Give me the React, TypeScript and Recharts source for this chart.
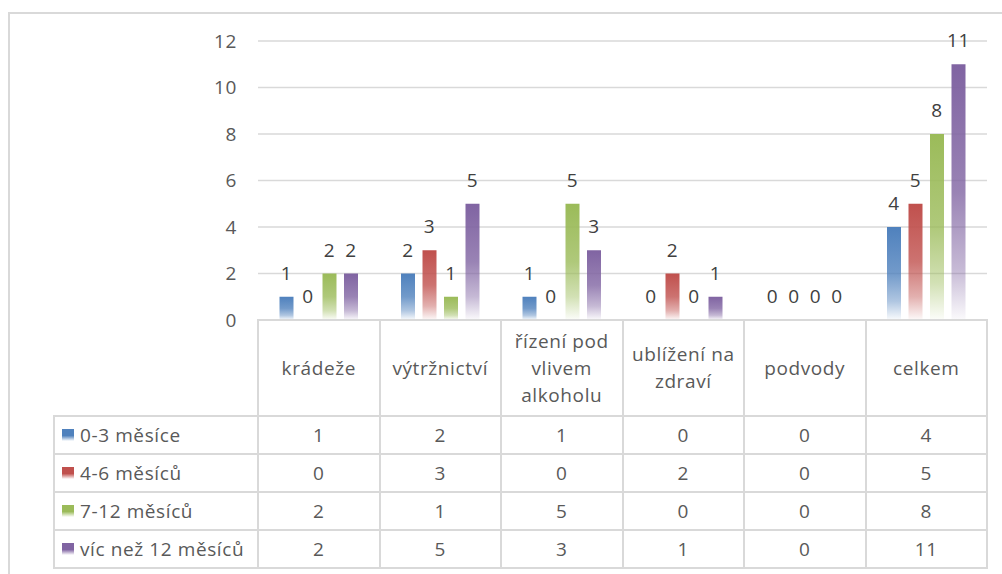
import { Bar, BarChart, CartesianGrid, LabelList, XAxis, YAxis } from "recharts";

const categories = [
  "krádeže",
  "výtržnictví",
  "řízení pod vlivem alkoholu",
  "ublížení na zdraví",
  "podvody",
  "celkem",
];
const seriesNames = ["0-3 měsíce", "4-6 měsíců", "7-12 měsíců", "víc než 12 měsíců"];
const months0to3 = [1, 2, 1, 0, 0, 4];
const months4to6 = [0, 3, 0, 2, 0, 5];
const months7to12 = [2, 1, 5, 0, 0, 8];
const monthsOver12 = [2, 5, 3, 1, 0, 11];
const yTicks = [0, 2, 4, 6, 8, 10, 12];

const colors = ["#4F81BD", "#C0504D", "#9BBB59", "#8064A2"];
const seriesValues = [months0to3, months4to6, months7to12, monthsOver12];
const keys = ["s0", "s1", "s2", "s3"];

const data = categories.map((name, i) => {
  const row: Record<string, string | number> = { name };
  seriesValues.forEach((vals, s) => (row[keys[s]] = vals[i]));
  return row;
});

const FONT = "'Open Sans', sans-serif";
const FS = 19;
const LS = 0.6;
const GRID = "#d9d9d9";
const TEXT = "#595959";

// plot area in page coordinates
const PLOT_L = 258;
const PLOT_R = 987;
const PLOT_T = 41;
const PLOT_B = 320;
const COL_W = (PLOT_R - PLOT_L) / categories.length;
const FIRST_L = 54;
const HEAD_H = 96;
const ROW_H = 38;

function Cell(props: {
  x: number;
  y: number;
  w: number;
  h: number;
  children?: any;
  align?: "center" | "left";
}) {
  const { x, y, w, h, children, align = "center" } = props;
  return (
    <div
      style={{
        position: "absolute",
        left: x - 1,
        top: y - 1,
        width: w + 2,
        height: h + 2,
        boxSizing: "border-box",
        border: `2px solid ${GRID}`,
        display: "flex",
        alignItems: "center",
        justifyContent: align === "center" ? "center" : "flex-start",
        textAlign: "center",
        padding: align === "center" ? "0 5px" : "0 0 0 7px",
        fontFamily: FONT,
        fontSize: FS,
        letterSpacing: LS,
        lineHeight: "27px",
        color: TEXT,
      }}
    >
      {children}
    </div>
  );
}

function DataTable() {
  const cells: any[] = [];
  categories.forEach((c, i) => {
    cells.push(
      <Cell key={"h" + i} x={PLOT_L + i * COL_W} y={PLOT_B} w={COL_W} h={HEAD_H}>
        {c}
      </Cell>
    );
  });
  seriesNames.forEach((s, r) => {
    const y = PLOT_B + HEAD_H + r * ROW_H;
    cells.push(
      <Cell key={"l" + r} x={FIRST_L} y={y} w={PLOT_L - FIRST_L} h={ROW_H} align="left">
        <span
          style={{
            display: "inline-block",
            flex: "none",
            width: 12,
            height: 12,
            marginRight: 6,
            background: `linear-gradient(${colors[r]}, ${colors[r]} 55%, #ffffff)`,
          }}
        />
        <span style={{ whiteSpace: "nowrap" }}>{s}</span>
      </Cell>
    );
    seriesValues[r].forEach((v, i) => {
      cells.push(
        <Cell key={"c" + r + "-" + i} x={PLOT_L + i * COL_W} y={y} w={COL_W} h={ROW_H}>
          {v}
        </Cell>
      );
    });
  });
  return <>{cells}</>;
}

export default function App() {
  return (
    <div
      style={{
        position: "fixed",
        left: 0,
        top: 0,
        width: 1002,
        height: 574,
        overflow: "hidden",
        background: "#fff",
      }}
    >
      <div
        style={{
          position: "absolute",
          left: 8,
          top: 12,
          width: 1002,
          height: 600,
          borderLeft: `2px solid ${GRID}`,
          borderTop: `2px solid ${GRID}`,
        }}
      />
      <div style={{ position: "absolute", left: 0, top: 0 }}>
        <BarChart
          width={1002}
          height={574}
          data={data}
          margin={{ top: PLOT_T, right: 1002 - PLOT_R, bottom: 574 - PLOT_B, left: PLOT_L - 60 }}
          barGap={7.5}
          barCategoryGap={21.5}
        >
          <defs>
            {colors.map((c, i) => (
              <linearGradient key={i} id={"grad" + i} x1="0" y1="0" x2="0" y2="1">
                <stop offset="0%" stopColor={c} stopOpacity={1} />
                <stop offset="50%" stopColor={c} stopOpacity={0.8} />
                <stop offset="80%" stopColor={c} stopOpacity={0.45} />
                <stop offset="100%" stopColor={c} stopOpacity={0.03} />
              </linearGradient>
            ))}
          </defs>
          <CartesianGrid vertical={false} stroke={GRID} strokeWidth={1.5} />
          <XAxis dataKey="name" hide />
          <YAxis
            width={60}
            domain={[0, 12]}
            ticks={yTicks}
            interval={0}
            axisLine={false}
            tickLine={false}
            tickMargin={15}
            tick={{ fill: TEXT, fontSize: FS, fontFamily: FONT, letterSpacing: LS }}
          />
          {keys.map((k, i) => (
            <Bar
              key={k}
              dataKey={k}
              name={seriesNames[i]}
              fill={`url(#grad${i})`}
              minPointSize={0.01}
              isAnimationActive={false}
            >
              <LabelList
                dataKey={k}
                position="top"
                offset={17}
                fill="#404040"
                fontSize={FS}
                fontFamily={FONT}
                letterSpacing={LS}
              />
            </Bar>
          ))}
        </BarChart>
      </div>
      <DataTable />
    </div>
  );
}
